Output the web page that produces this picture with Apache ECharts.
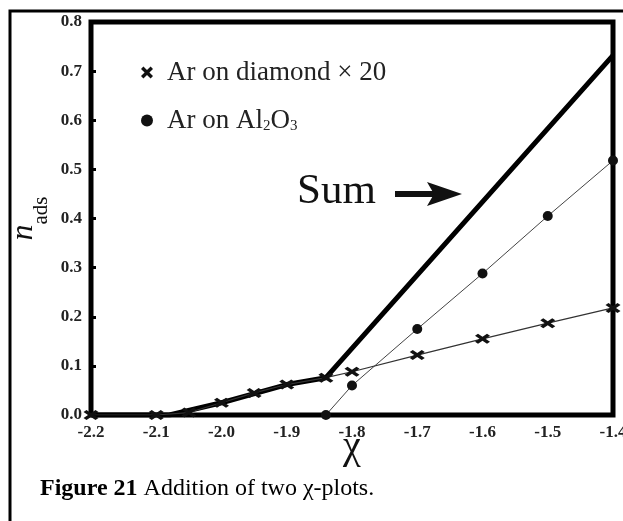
<!DOCTYPE html>
<html><head><meta charset="utf-8">
<script src="https://cdn.jsdelivr.net/npm/echarts@6/dist/echarts.min.js"></script>
<style>html,body{margin:0;padding:0;background:#fff}#c{width:623px;height:521px}</style>
</head><body><div id="c"></div>
<script>
// Data
const diamondX20 = [[-2.2,0],[-2.1,0],[-2.05,0.005],[-2.0,0.025],[-1.95,0.045],[-1.9,0.062],[-1.84,0.076],[-1.8,0.088],[-1.7,0.122],[-1.6,0.155],[-1.5,0.187],[-1.4,0.218]];
const al2o3 = [[-1.84,0],[-1.8,0.06],[-1.7,0.175],[-1.6,0.288],[-1.5,0.405],[-1.4,0.518]];
const sumLine = [[-2.2,0],[-2.08,0],[-2.0,0.025],[-1.9,0.062],[-1.84,0.076],[-1.4,0.732]];
const xTicks = {min:-2.2, max:-1.4, step:0.1};
const yTicks = {min:0, max:0.8, step:0.1};
const legendNames = ['Ar on diamond × 20', 'Ar on Al2O3'];

const serif = "'Liberation Serif','DejaVu Serif',serif";
const xIcon = 'path://M0,2 L2,0 L5,3 L8,0 L10,2 L7,5 L10,8 L8,10 L5,7 L2,10 L0,8 L3,5 Z';
const chart = echarts.init(document.getElementById('c'));
chart.setOption({
  animation:false,
  backgroundColor:'#fff',
  grid:{left:91, right:10, top:22, bottom:106, show:true, borderColor:'#000', borderWidth:5,
    backgroundColor:'transparent', containLabel:false, outerBoundsMode:'none'},
  legend:{
    orient:'vertical', left:136, top:54, itemGap:21, itemWidth:16, itemHeight:12,
    data:[{name:legendNames[0], icon:xIcon},{name:legendNames[1], icon:'circle'}],
    formatter:function(n){ return n==='Ar on Al2O3' ? 'Ar on Al{s|2}O{s|3}' : n; },
    textStyle:{fontFamily:serif, fontSize:27, color:'#222', padding:[0,0,0,7],
      rich:{s:{fontFamily:serif, fontSize:15, color:'#222', verticalAlign:'bottom', padding:[12,0,0,0]}}}
  },
  xAxis:{type:'value', min:xTicks.min, max:xTicks.max, interval:xTicks.step,
    name:'χ', nameLocation:'middle', nameGap:12, nameMoveOverlap:false,
    nameTextStyle:{fontFamily:serif, fontSize:40, color:'#111'},
    axisLine:{show:false}, axisTick:{show:false}, splitLine:{show:false},
    axisLabel:{margin:9, fontFamily:serif, fontWeight:'bold', fontSize:17, color:'#222',
      formatter:v=>v.toFixed(1)}},
  yAxis:{type:'value', min:yTicks.min, max:yTicks.max, interval:yTicks.step,
    name:'{n|n}{s|ads}', nameLocation:'middle', nameGap:39, nameRotate:90, nameMoveOverlap:false,
    nameTextStyle:{rich:{n:{fontFamily:serif, fontStyle:'italic', fontSize:32, color:'#111', padding:[0,0,12,0]},
      s:{fontFamily:serif, fontSize:21, color:'#111', verticalAlign:'bottom'}}},
    axisLine:{show:false}, axisTick:{show:true, inside:true, length:5, lineStyle:{color:'#000', width:3}},
    splitLine:{show:false},
    axisLabel:{margin:9, fontFamily:serif, fontWeight:'bold', fontSize:17, color:'#222',
      formatter:v=>v.toFixed(1)}},
  series:[
    {name:'Sum', type:'line', data:sumLine, symbol:'none', lineStyle:{color:'#000', width:5}, z:3},
    {name:legendNames[0], type:'line', data:diamondX20, symbol:xIcon, symbolSize:[15,10],
      itemStyle:{color:'#111'}, lineStyle:{color:'#333', width:1.2}, z:4},
    {name:legendNames[1], type:'line', data:al2o3, symbol:'circle', symbolSize:10,
      itemStyle:{color:'#111'}, lineStyle:{color:'#444', width:1}, z:4}
  ],
  graphic:[
    {type:'rect', shape:{x:10, y:11, width:700, height:600}, style:{fill:'none', stroke:'#000', lineWidth:3}, silent:true},
    {type:'text', left:297, top:170, style:{text:'Sum', font:"43px 'Liberation Serif'", fill:'#111'}},
    {type:'line', shape:{x1:395, y1:194, x2:440, y2:194}, style:{stroke:'#111', lineWidth:6}},
    {type:'polygon', shape:{points:[[427,182],[462,194],[427,206],[434,194]]}, style:{fill:'#111'}},
    {type:'text', left:40, top:477, style:{text:'{b|Figure 21} Addition of two χ-plots.', font:"24px 'Liberation Serif'", fill:'#000',
      rich:{b:{fontFamily:'Liberation Serif', fontWeight:'bold', fontSize:24, fill:'#000'}}}}
  ]
});
</script></body></html>
